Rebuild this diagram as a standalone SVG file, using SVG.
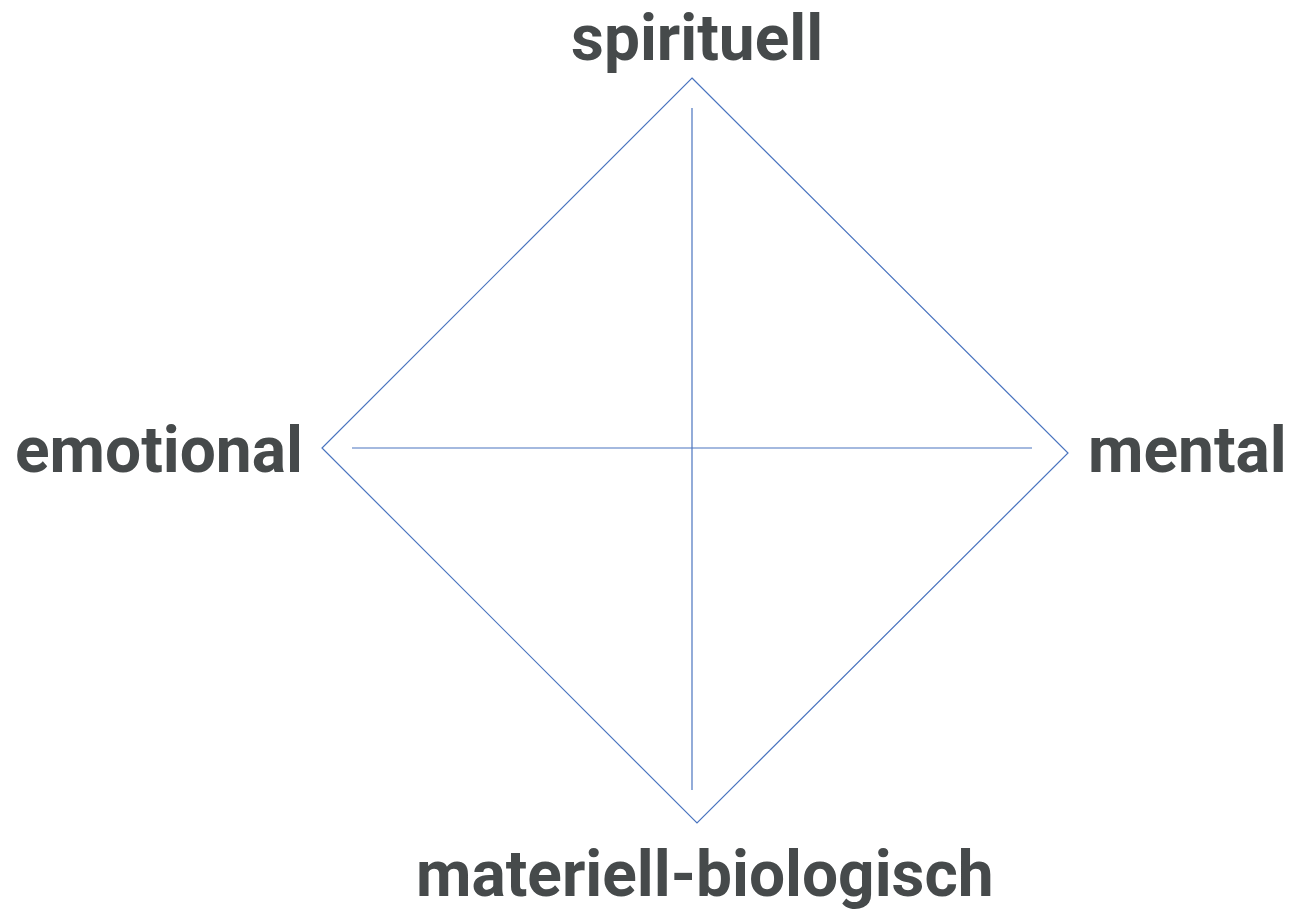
<svg xmlns="http://www.w3.org/2000/svg" width="1291" height="910" viewBox="0 0 1291 910">
<style>
.lbl{font-family:Roboto,"Liberation Sans",sans-serif;font-weight:bold;font-size:64px;fill:#464a4b}
.ln{stroke:#4a74bf;stroke-width:1.2;fill:none}
</style>
<rect width="1291" height="910" fill="#ffffff"/>
<g id="connectors">
<polygon class="ln" points="692,78 1068,453 697,823 322,448"/>
<line class="ln" x1="692" y1="108" x2="692" y2="790"/>
<line class="ln" x1="352" y1="448" x2="1032" y2="448"/>
</g>
<g id="node-spirituell"><text class="lbl" x="571" y="60">spirituell</text></g>
<g id="node-emotional"><text class="lbl" x="15" y="472">emotional</text></g>
<g id="node-mental"><text class="lbl" x="1088" y="472">mental</text></g>
<g id="node-materiell"><text class="lbl" x="416" y="896">materiell-biologisch</text></g>
</svg>
